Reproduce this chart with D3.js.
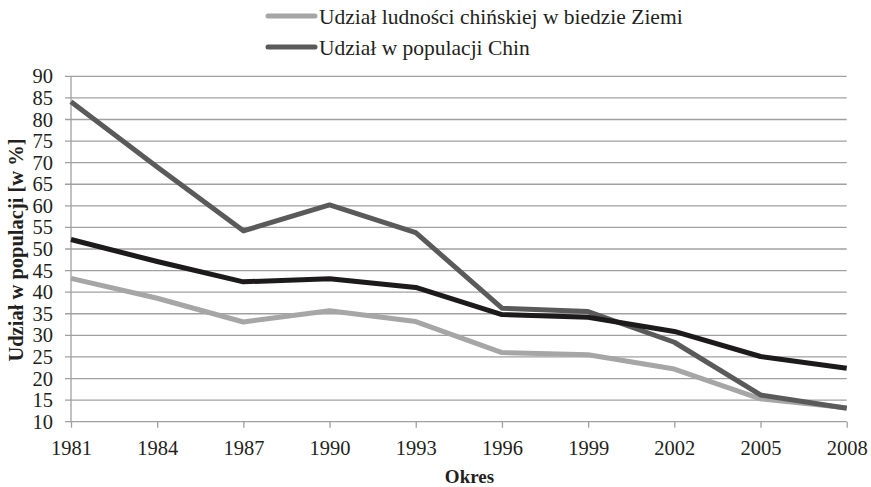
<!DOCTYPE html>
<html>
<head>
<meta charset="utf-8">
<script src="https://cdn.jsdelivr.net/npm/d3@7"></script>
<style>
html,body{margin:0;padding:0;background:#fff;}
svg{display:block;}
svg text{font-family:"Liberation Serif","Times New Roman",serif !important;}
</style>
</head>
<body>
<svg id="chart" width="871" height="487"></svg>
<script>
const years = ["1981","1984","1987","1990","1993","1996","1999","2002","2005","2008"];
const yTicks = [10,15,20,25,30,35,40,45,50,55,60,65,70,75,80,85,90];
const povertyShare = [43.2,38.6,33.1,35.7,33.2,26.0,25.5,22.2,15.3,13.2];
const chinaShare   = [84.1,69.0,54.2,60.2,53.8,36.3,35.5,28.4,16.2,13.1];
const worldShare   = [52.2,47.1,42.4,43.1,41.1,34.8,34.2,30.9,25.1,22.4];
const seriesNames = ["Udział ludności chińskiej w biedzie Ziemi","Udział w populacji Chin",""];
const seriesColors = ["#a6a6a6","#5a5a5a","#1c1a1a"];

const svg = d3.select("#chart");
const x = d3.scalePoint().domain(years).range([71, 846.7]);
const y = d3.scaleLinear().domain([10,90]).range([421.7, 76.3]);

// gridlines
svg.append("g").selectAll("line").data(yTicks).join("line")
  .attr("x1",65).attr("x2",846.7)
  .attr("y1",d=>y(d)).attr("y2",d=>y(d))
  .attr("stroke","#a0a0a0").attr("stroke-width",1.3);

// y axis line
svg.append("line").attr("x1",71).attr("x2",71).attr("y1",y(90)).attr("y2",y(10))
  .attr("stroke","#a0a0a0").attr("stroke-width",1.3);

// x axis ticks
const xAxis = d3.axisBottom(x).tickSize(6).tickPadding(13);
const gx = svg.append("g").attr("transform",`translate(0,${y(10)})`).call(xAxis);
gx.select(".domain").remove();
gx.selectAll(".tick line").attr("stroke","#a0a0a0").attr("stroke-width",1.3);
gx.selectAll(".tick text").style("font-size","20.5px").attr("fill","#231f20");

// y axis labels
const yAxis = d3.axisLeft(y).tickValues(yTicks).tickSize(0).tickPadding(18);
const gy = svg.append("g").attr("transform","translate(71,0)").call(yAxis);
gy.select(".domain").remove();
gy.selectAll(".tick text").style("font-size","20.5px").attr("fill","#231f20");

// lines
const line = d3.line().x((d,i)=>x(years[i])).y(d=>y(d));
const all = [povertyShare, chinaShare, worldShare];
[0,1,2].forEach(i=>{
  svg.append("path").datum(all[i]).attr("d",line)
    .attr("fill","none").attr("stroke",seriesColors[i]).attr("stroke-width",5)
    .attr("stroke-linejoin","round");
});

// legend
const legY = [16, 47];
[0,1].forEach(i=>{
  svg.append("line").attr("x1",268).attr("x2",315).attr("y1",legY[i]).attr("y2",legY[i])
    .attr("stroke",seriesColors[i]).attr("stroke-width",5).attr("stroke-linecap","round");
  svg.append("text").attr("x",319).attr("y",legY[i]).attr("dy","0.35em")
    .style("font-size","21.5px").attr("fill","#231f20").text(seriesNames[i]);
});

// axis titles
svg.append("text").attr("transform","translate(23,250) rotate(-90)")
  .attr("text-anchor","middle").attr("font-weight","bold").style("font-size","20.5px")
  .attr("fill","#231f20").text("Udział w populacji [w %]");
svg.append("text").attr("x",469.5).attr("y",483).attr("text-anchor","middle")
  .attr("font-weight","bold").style("font-size","19px").attr("fill","#231f20").text("Okres");
</script>
</body>
</html>
